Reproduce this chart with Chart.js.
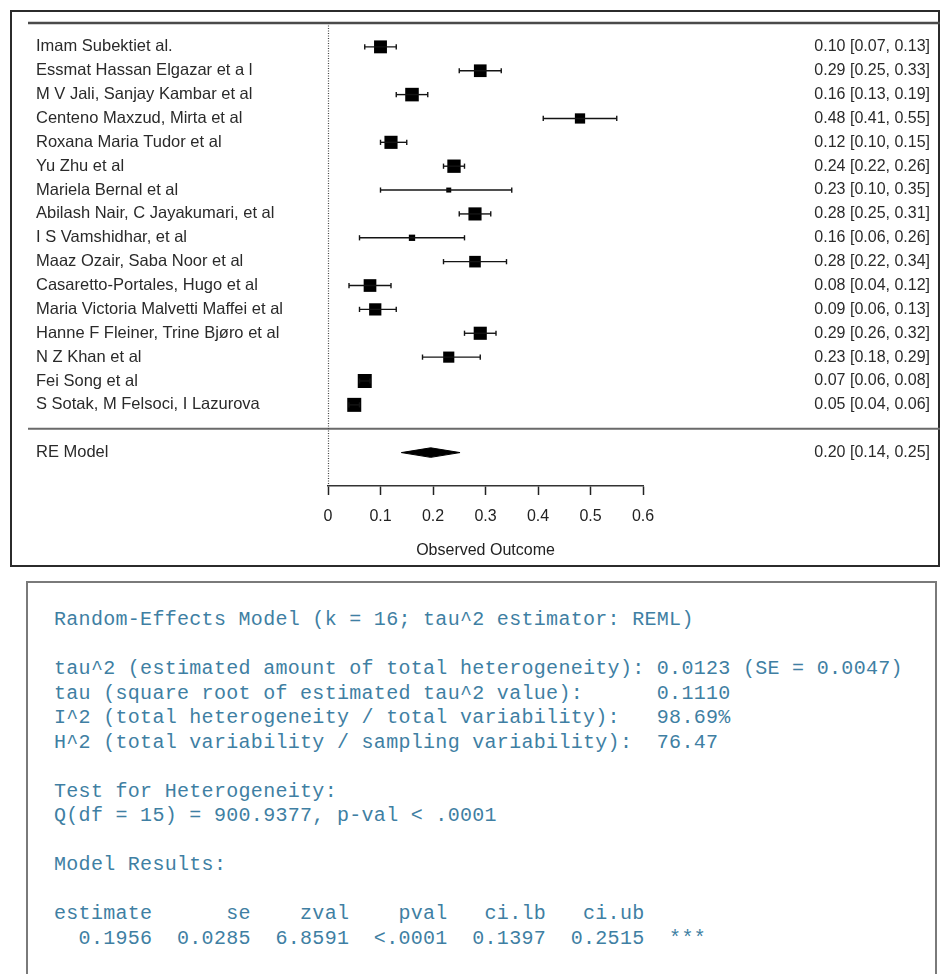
<!DOCTYPE html>
<html><head><meta charset="utf-8">
<script src="https://cdn.jsdelivr.net/npm/chart.js@4.4.1/dist/chart.umd.min.js"></script>
<style>
html,body{margin:0;padding:0;background:#fff;}
body{width:943px;height:974px;position:relative;overflow:hidden;}
#frame{position:absolute;left:10px;top:10px;width:926px;height:553px;border:2px solid #2b2b2b;}
#forest{position:absolute;left:0;top:0;}
#stats{position:absolute;left:26px;top:581px;width:911px;height:430px;border:2px solid #7a7a7a;border-bottom:none;box-sizing:border-box;}
#stats pre{position:absolute;left:26px;top:25px;margin:0;font-family:"Liberation Mono","DejaVu Sans Mono",monospace;font-size:20px;letter-spacing:0.3px;line-height:24.5px;color:#3f7fa3;}
</style></head>
<body>
<div id="frame"></div>
<canvas id="forest" width="943" height="570"></canvas>
<div id="stats"><pre id="statsText"></pre></div>
<script>
// ---------- data ----------
const studies = [
  'Imam Subektiet al.',
  'Essmat Hassan Elgazar et a l',
  'M V Jali, Sanjay Kambar et al',
  'Centeno Maxzud, Mirta et al',
  'Roxana Maria Tudor et al',
  'Yu Zhu et al',
  'Mariela Bernal et al',
  'Abilash Nair, C Jayakumari, et al',
  'I S Vamshidhar, et al',
  'Maaz Ozair, Saba Noor et al',
  'Casaretto-Portales, Hugo et al',
  'Maria Victoria Malvetti Maffei et al',
  'Hanne F Fleiner, Trine Bjøro et al',
  'N Z Khan et al',
  'Fei Song et al',
  'S Sotak, M Felsoci, I Lazurova'
];
const estimates = [0.10, 0.29, 0.16, 0.48, 0.12, 0.24, 0.23, 0.28, 0.16, 0.28, 0.08, 0.09, 0.29, 0.23, 0.07, 0.05];
const ciLower   = [0.07, 0.25, 0.13, 0.41, 0.10, 0.22, 0.10, 0.25, 0.06, 0.22, 0.04, 0.06, 0.26, 0.18, 0.06, 0.04];
const ciUpper   = [0.13, 0.33, 0.19, 0.55, 0.15, 0.26, 0.35, 0.31, 0.26, 0.34, 0.12, 0.13, 0.32, 0.29, 0.08, 0.06];
const weights   = [6.6, 6.5, 6.9, 5.4, 6.7, 6.8, 3.0, 6.7, 3.6, 6.0, 6.5, 6.3, 6.7, 5.8, 7.1, 7.1];
const pooledLabel = 'RE Model';
const pooledEstimate = 0.1956;
const pooledLower = 0.1397;
const pooledUpper = 0.2515;
const xTicks = [0, 0.1, 0.2, 0.3, 0.4, 0.5, 0.6];
const axisTitle = 'Observed Outcome';
const statLines = [
  'Random-Effects Model (k = 16; tau^2 estimator: REML)',
  '',
  'tau^2 (estimated amount of total heterogeneity): 0.0123 (SE = 0.0047)',
  'tau (square root of estimated tau^2 value):      0.1110',
  'I^2 (total heterogeneity / total variability):   98.69%',
  'H^2 (total variability / sampling variability):  76.47',
  '',
  'Test for Heterogeneity:',
  'Q(df = 15) = 900.9377, p-val < .0001',
  '',
  'Model Results:',
  '',
  'estimate      se    zval    pval   ci.lb   ci.ub',
  '  0.1956  0.0285  6.8591  <.0001  0.1397  0.2515  ***'
];
// ---------- end data ----------

document.getElementById('statsText').textContent = statLines.join('\n');

const FONT = '"Liberation Sans", Arial, sans-serif';
const INK = '#141414';
const sepRow = studies.length + 1;
const reRow = studies.length + 2;
const diamondHalf = 0.2;
const fmt = v => v.toFixed(2);
const wMin = Math.min(...weights), wMax = Math.max(...weights);
const sideFor = w => 5 + (w - wMin) / (wMax - wMin) * 9;

const datasets = [];
studies.forEach((s, i) => {
  datasets.push({
    data: [{x: ciLower[i], y: i + 1}, {x: ciUpper[i], y: i + 1}],
    borderColor: INK, borderWidth: 1.4,
    pointStyle: 'line', pointRotation: 90, pointRadius: 2.6,
    pointBorderColor: INK, pointBorderWidth: 1.4, pointHoverRadius: 2.6,
    tension: 0, clip: false
  });
});
datasets.push({
  data: estimates.map((v, i) => ({x: v, y: i + 1})),
  showLine: false,
  pointStyle: 'rect',
  pointRadius: weights.map(w => sideFor(w) / Math.SQRT2),
  pointHoverRadius: weights.map(w => sideFor(w) / Math.SQRT2),
  backgroundColor: '#000', pointBackgroundColor: '#000', pointBorderWidth: 0, borderWidth: 0,
  clip: false
});
datasets.push({
  data: [{x: pooledLower, y: reRow}, {x: pooledEstimate, y: reRow - diamondHalf}, {x: pooledUpper, y: reRow}],
  borderColor: '#000', borderWidth: 1, backgroundColor: '#000', pointRadius: 0, tension: 0, fill: '+1'
});
datasets.push({
  data: [{x: pooledLower, y: reRow}, {x: pooledEstimate, y: reRow + diamondHalf}, {x: pooledUpper, y: reRow}],
  borderColor: '#000', borderWidth: 1, pointRadius: 0, tension: 0, fill: false
});

const forestDecor = {
  id: 'forestDecor',
  beforeDatasetsDraw(chart) {
    const {ctx, scales: {x, y}, chartArea} = chart;
    ctx.save();
    const yTop = y.getPixelForValue(0);
    const ySep = y.getPixelForValue(sepRow);
    ctx.lineWidth = 2.5;
    ctx.strokeStyle = '#4a4a4a';
    ctx.beginPath(); ctx.moveTo(28, yTop); ctx.lineTo(940, yTop); ctx.stroke();
    ctx.lineWidth = 2;
    ctx.strokeStyle = '#6a6a6a';
    ctx.beginPath(); ctx.moveTo(28, ySep); ctx.lineTo(940, ySep); ctx.stroke();
    const x0 = Math.round(x.getPixelForValue(0)) + 0.5;
    ctx.setLineDash([1, 1.5]);
    ctx.lineWidth = 1.2;
    ctx.strokeStyle = '#444';
    ctx.beginPath(); ctx.moveTo(x0, yTop); ctx.lineTo(x0, chartArea.bottom); ctx.stroke();
    ctx.restore();
  },
  afterDatasetsDraw(chart) {
    const {ctx, scales: {y}} = chart;
    ctx.save();
    ctx.fillStyle = '#2a2a2a';
    ctx.textBaseline = 'middle';
    ctx.font = '16.5px ' + FONT;
    ctx.textAlign = 'left';
    studies.forEach((s, i) => ctx.fillText(s, 36, y.getPixelForValue(i + 1)));
    ctx.fillText(pooledLabel, 36, y.getPixelForValue(reRow));
    ctx.font = '16px ' + FONT;
    ctx.textAlign = 'right';
    estimates.forEach((v, i) => {
      ctx.fillText(fmt(v) + ' [' + fmt(ciLower[i]) + ', ' + fmt(ciUpper[i]) + ']', 930, y.getPixelForValue(i + 1));
    });
    ctx.fillText(fmt(pooledEstimate) + ' [' + fmt(pooledLower) + ', ' + fmt(pooledUpper) + ']', 930, y.getPixelForValue(reRow));
    ctx.restore();
  }
};

new Chart(document.getElementById('forest'), {
  type: 'line',
  data: {datasets},
  options: {
    responsive: false,
    devicePixelRatio: 1,
    animation: false,
    events: [],
    layout: {padding: {left: 328, right: 300, top: 23, bottom: 9.6}},
    plugins: {legend: {display: false}, tooltip: {enabled: false}, title: {display: false}},
    scales: {
      x: {
        type: 'linear', min: 0, max: 0.6, position: 'bottom',
        afterBuildTicks: scale => { scale.ticks = xTicks.map(v => ({value: v})); },
        ticks: {
          callback: v => (v === 0 ? '0' : Number(v).toFixed(1)),
          font: {family: FONT, size: 16}, color: '#222', padding: 11.5,
          maxRotation: 0, autoSkip: false
        },
        grid: {display: true, drawOnChartArea: false, drawTicks: true, tickLength: 9, tickColor: '#222', tickWidth: 1.5},
        border: {display: true, color: '#333', width: 1.5},
        title: {display: true, text: axisTitle, font: {family: FONT, size: 16}, color: '#222', padding: {top: 4, bottom: 0}}
      },
      y: {type: 'linear', reverse: true, min: 0, max: 19.4, display: false}
    }
  },
  plugins: [forestDecor]
});
</script>
</body></html>
